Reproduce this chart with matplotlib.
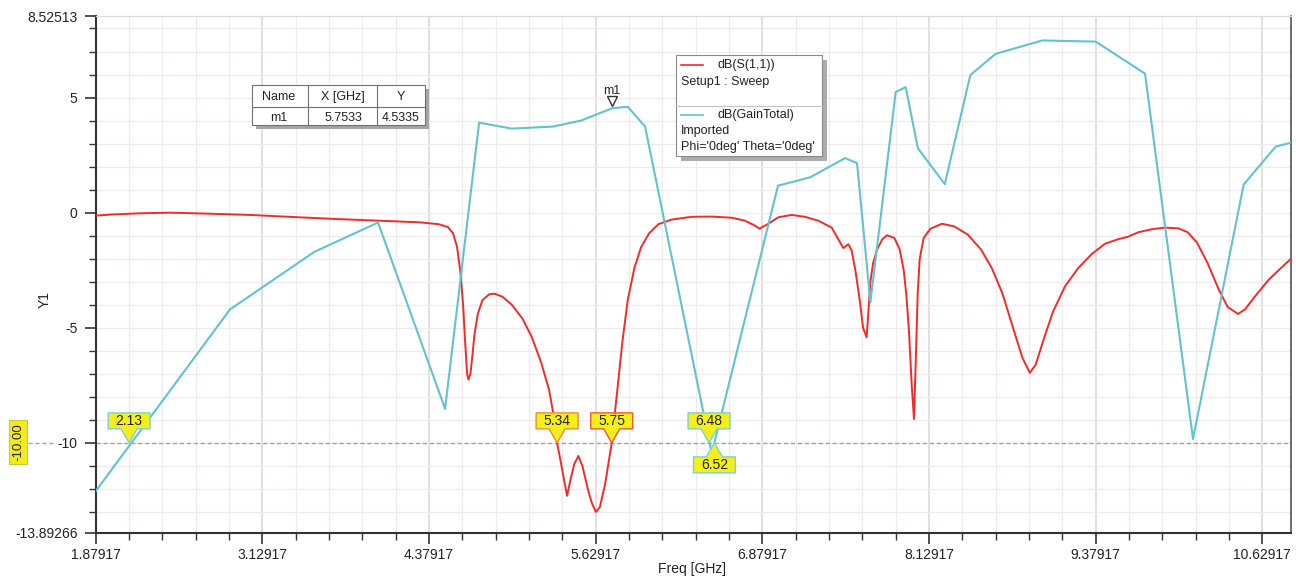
import numpy as np
import matplotlib
matplotlib.use("Agg")
import matplotlib.pyplot as plt
import matplotlib.transforms as mtransforms
from matplotlib.patches import Rectangle, Polygon
from matplotlib.lines import Line2D

plt.rcParams['font.family'] = ['Liberation Sans', 'DejaVu Sans']

# dB(S(1,1)) - Setup1 : Sweep
s11_freq = [1.879, 2.0, 2.2, 2.44, 2.7, 3.04, 3.4, 3.7, 4.01, 4.31, 4.45, 4.52, 4.56,
            4.59, 4.615, 4.635, 4.65, 4.665, 4.675, 4.69, 4.705, 4.72, 4.745, 4.78,
            4.83, 4.87, 4.93, 5.0, 5.08, 5.15, 5.22, 5.28, 5.32, 5.34, 5.37, 5.395,
            5.415, 5.44, 5.47, 5.50, 5.53, 5.57, 5.60, 5.63, 5.66, 5.70, 5.75, 5.79,
            5.83, 5.87, 5.92, 5.97, 6.03, 6.1, 6.2, 6.35, 6.5, 6.65, 6.75, 6.82, 6.86,
            6.88, 6.92, 7.0, 7.1, 7.2, 7.3, 7.4, 7.487, 7.525, 7.55, 7.58, 7.61, 7.635,
            7.662, 7.675, 7.69, 7.71, 7.74, 7.78, 7.815, 7.87, 7.91, 7.94, 7.96, 7.98,
            8.0, 8.017, 8.03, 8.045, 8.06, 8.09, 8.14, 8.227, 8.32, 8.42, 8.52, 8.6,
            8.68, 8.76, 8.83, 8.886, 8.93, 8.99, 9.06, 9.15, 9.25, 9.35, 9.45, 9.55,
            9.62, 9.7, 9.8, 9.9, 10.0, 10.07, 10.14, 10.22, 10.3, 10.37, 10.448, 10.5,
            10.58, 10.68, 10.78, 10.845]
s11_db = [-0.13, -0.08, -0.03, 0.0, -0.04, -0.1, -0.2, -0.28, -0.35, -0.42, -0.5, -0.62,
          -0.9, -1.5, -2.6, -4.0, -5.6, -7.0, -7.25, -7.0, -6.2, -5.3, -4.4, -3.8,
          -3.55, -3.52, -3.65, -4.0, -4.6, -5.4, -6.5, -7.7, -9.0, -10.0, -10.9, -11.7,
          -12.3, -11.6, -10.9, -10.57, -11.0, -12.0, -12.6, -13.0, -12.8, -11.8, -10.0,
          -7.8, -5.6, -3.8, -2.4, -1.5, -0.9, -0.5, -0.3, -0.18, -0.17, -0.22, -0.35,
          -0.55, -0.7, -0.62, -0.5, -0.2, -0.1, -0.18, -0.35, -0.65, -1.54, -1.37,
          -1.65, -2.6, -3.8, -5.0, -5.41, -4.3, -3.0, -2.2, -1.6, -1.15, -0.98, -1.1,
          -1.6, -2.5, -3.6, -5.2, -7.5, -8.96, -6.5, -3.5, -2.0, -1.1, -0.7, -0.48,
          -0.6, -0.95, -1.6, -2.4, -3.5, -5.0, -6.3, -6.96, -6.6, -5.5, -4.3, -3.2,
          -2.4, -1.8, -1.35, -1.15, -1.05, -0.85, -0.72, -0.65, -0.68, -0.85, -1.3,
          -2.2, -3.3, -4.1, -4.4, -4.2, -3.6, -2.9, -2.35, -2.0]

# dB(GainTotal) - Imported, Phi='0deg' Theta='0deg'
gain_freq = [1.879, 2.887, 3.52, 3.997, 4.50, 4.755, 5.0, 5.31, 5.52, 5.65, 5.7533, 5.87,
             6.0, 6.50, 6.997, 7.24, 7.50, 7.59, 7.69, 7.88, 7.955, 8.046, 8.248, 8.44,
             8.63, 8.98, 9.38, 9.75, 10.11, 10.49, 10.73, 10.845]
gain_db = [-12.1, -4.2, -1.70, -0.43, -8.52, 3.91, 3.65, 3.74, 4.0, 4.3, 4.5335, 4.6,
           3.74, -10.45, 1.17, 1.54, 2.37, 2.15, -3.9, 5.24, 5.45, 2.8, 1.24, 5.98,
           6.9, 7.48, 7.43, 6.04, -9.83, 1.22, 2.87, 3.04]

x_min, x_max = 1.87917, 10.845
y_min, y_max = -13.89266, 8.52513
x_major = [1.87917, 3.12917, 4.37917, 5.62917, 6.87917, 8.12917, 9.37917, 10.62917]
y_major = [y_max, 5, 0, -5, -10, y_min]
y_major_labels = ['8.52513', '5', '0', '-5', '-10', '-13.89266']

m1_x, m1_y = 5.7533, 4.5335
level = -10.0
cross_freqs = [2.13, 5.34, 5.75, 6.48, 6.52]
cross_labels = ['2.13', '5.34', '5.75', '6.48', '6.52']
cross_below = [False, False, False, False, True]
cross_edges = ['#7fd0d4', '#f08a3a', '#f0553a', '#7fd0d4', '#7fd0d4']

red = '#ef2b2b'
cyan = '#62c3cc'
W, H = 1296, 577

fig = plt.figure(figsize=(W / 100, H / 100), dpi=100)
ax = fig.add_axes([95.7 / W, 1 - 532.5 / H, (1291 - 95.7) / W, (532.5 - 16.4) / H])

ax.plot(s11_freq, s11_db, color=red, lw=1.4, zorder=3)
ax.plot(gain_freq, gain_db, color=cyan, lw=1.5, zorder=3)

ax.set_xlim(x_min, x_max)
ax.set_ylim(y_min, y_max)
ax.set_xticks(x_major)
ax.set_xticklabels(['%.5f' % v for v in x_major])
ax.set_xticks(np.arange(x_min, x_max, 0.25), minor=True)
ax.set_yticks(y_major)
ax.set_yticklabels(y_major_labels)
ax.set_yticks(np.arange(-13, 9, 1), minor=True)

ax.grid(which='minor', color='#f0eaea', lw=0.9)
ax.grid(which='major', axis='y', color='#f0eaea', lw=0.9)
ax.grid(which='major', axis='x', color='#ddd5d5', lw=1.1)
ax.tick_params(which='major', length=8, width=1.2, color='#333333',
               labelsize=10, labelcolor='#222222')
ax.tick_params(which='minor', length=5, width=1.0, color='#333333')
ax.tick_params(axis='y', which='major', pad=5)
ax.tick_params(axis='x', which='major', pad=3)

ax.spines['left'].set(color='#333333', lw=1.5)
ax.spines['bottom'].set(color='#333333', lw=1.5)
ax.spines['right'].set(color='#555555', lw=1.2)
ax.spines['top'].set(color='#e2dada', lw=0.9)

# -10 reference line
ax.axhline(level, color='#a8a0a0', ls=(0, (3, 2)), lw=1.0, zorder=2)
ax.plot([-0.057, -0.033], [level, level], transform=ax.get_yaxis_transform(),
        color='#a8a0a0', ls=(0, (3, 2)), lw=1.0, clip_on=False)

# pixel transform (y from top)
pix = mtransforms.Affine2D().scale(1 / W, -1 / H).translate(0, 1) + fig.transFigure

fig.text(18 / W, 1 - 442 / H, '-10.00', rotation=90, ha='center', va='center',
         fontsize=9.5, color='#222222',
         bbox=dict(boxstyle='square,pad=0.22', fc='#f2ec1c', ec='#cfc63a', lw=0.8))
fig.text(45 / W, 1 - 300 / H, 'Y1', rotation=90, ha='center', va='center',
         fontsize=10, color='#222222')
fig.text(692 / W, 1 - 569 / H, 'Freq [GHz]', ha='center', va='center',
         fontsize=10, color='#222222')

# marker m1
m1_off = mtransforms.offset_copy(ax.transData, fig=fig, y=7, units='dots')
ax.plot([m1_x], [m1_y], marker='v', ms=7, mfc='white', mec='#333333', mew=1.0,
        transform=m1_off, zorder=5, clip_on=False)
ax.annotate('m1', xy=(m1_x, m1_y), xytext=(0, 17), textcoords='offset pixels',
            ha='center', va='center', fontsize=9, color='#222222')

# crossing callouts at -10 dB
for f, lab, below, ec in zip(cross_freqs, cross_labels, cross_below, cross_edges):
    t = fig.dpi_scale_trans + mtransforms.ScaledTranslation(f, level, ax.transData)
    s = -1 if below else 1
    verts = np.array([[-21, 14], [-8, 14], [0, 0], [8, 14], [21, 14], [21, 30], [-21, 30]],
                     dtype=float)
    verts[:, 1] *= s
    ax.add_patch(Polygon(verts / 100, closed=True, transform=t, fc='#f4ee1a', ec=ec,
                         lw=1.0, zorder=6, clip_on=False))
    ax.text(0, s * 22 / 100, lab, transform=t, ha='center', va='center',
            fontsize=10, color='#222222', zorder=7)

# marker table
fig.add_artist(Rectangle((256, 89), 173, 40, transform=pix, fc='#a8a4a4', ec='none'))
fig.add_artist(Rectangle((252, 85), 173, 40, transform=pix, fc='white', ec='#707070', lw=0.8))
fig.add_artist(Line2D([252, 425], [107, 107], transform=pix, color='#707070', lw=0.8))
for xv in [308, 377]:
    fig.add_artist(Line2D([xv, xv], [85, 125], transform=pix, color='#707070', lw=0.8))
for xc, txt in zip([279, 343, 401], ['Name', 'X [GHz]', 'Y']):
    fig.text(xc, 97, txt, transform=pix, ha='center', va='center', fontsize=9, color='#222222')
for xc, txt in zip([279, 343, 401], ['m1', '%.4f' % m1_x, '%.4f' % m1_y]):
    fig.text(xc, 118, txt, transform=pix, ha='center', va='center', fontsize=9, color='#222222')

# legend
fig.add_artist(Rectangle((681, 60), 146, 101, transform=pix, fc='#b0abab', ec='none'))
fig.add_artist(Rectangle((676, 55), 146, 101, transform=pix, fc='white', ec='#8a8a8a', lw=0.8))
fig.add_artist(Line2D([676, 822], [106, 106], transform=pix, color='#c4c4c4', lw=0.8))
fig.add_artist(Line2D([681, 703], [65, 65], transform=pix, color=red, lw=1.2))
fig.add_artist(Line2D([681, 703], [115, 115], transform=pix, color=cyan, lw=1.2))
fig.text(717, 65, 'dB(S(1,1))', transform=pix, va='center', fontsize=9, color='#222222')
fig.text(681, 82, 'Setup1 : Sweep', transform=pix, va='center', fontsize=9, color='#222222')
fig.text(717, 115, 'dB(GainTotal)', transform=pix, va='center', fontsize=9, color='#222222')
fig.text(681, 131, 'Imported', transform=pix, va='center', fontsize=9, color='#222222')
fig.text(681, 147, "Phi='0deg' Theta='0deg'", transform=pix, va='center', fontsize=9,
         color='#222222')

fig.savefig('out.png', dpi=100)
